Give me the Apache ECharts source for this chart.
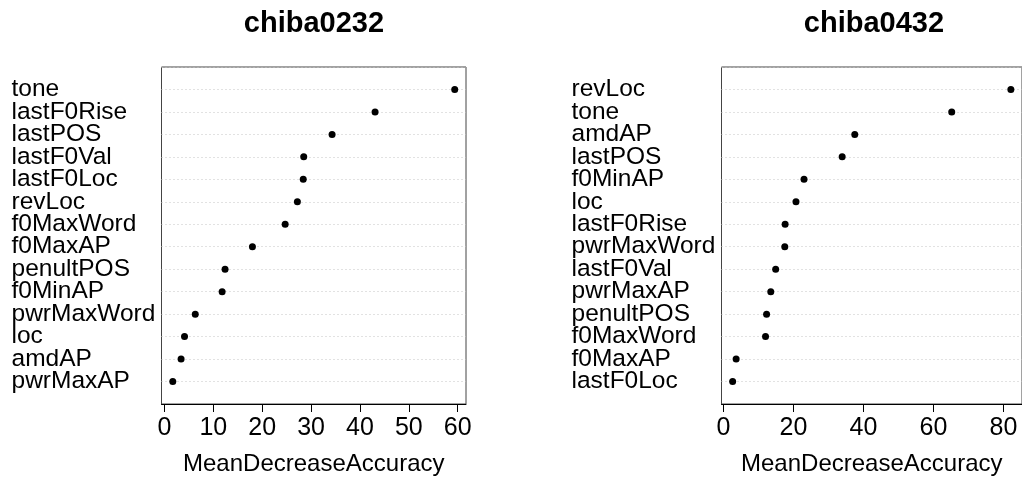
<!DOCTYPE html>
<html>
<head>
<meta charset="utf-8">
<script src="https://cdn.jsdelivr.net/npm/echarts@6/dist/echarts.min.js"></script>
<style>
  html, body { margin: 0; padding: 0; background: #fff; }
  #main { width: 1022px; height: 481px; }
</style>
</head>
<body>
<div id="main"></div>
<script>
// 左图：chiba0232
var leftTitle = 'chiba0232';
var leftLabels = ['tone', 'lastF0Rise', 'lastPOS', 'lastF0Val', 'lastF0Loc', 'revLoc', 'f0MaxWord',
  'f0MaxAP', 'penultPOS', 'f0MinAP', 'pwrMaxWord', 'loc', 'amdAP', 'pwrMaxAP'];
var leftValues = [59.4, 43.1, 34.3, 28.5, 28.4, 27.2, 24.7, 18.0, 12.4, 11.8, 6.3, 4.1, 3.4, 1.7];
var leftTicks = [0, 10, 20, 30, 40, 50, 60];

// 右图：chiba0432
var rightTitle = 'chiba0432';
var rightLabels = ['revLoc', 'tone', 'amdAP', 'lastPOS', 'f0MinAP', 'loc', 'lastF0Rise',
  'pwrMaxWord', 'lastF0Val', 'pwrMaxAP', 'penultPOS', 'f0MaxWord', 'f0MaxAP', 'lastF0Loc'];
var rightValues = [82.1, 65.2, 37.5, 33.9, 23.0, 20.7, 17.6, 17.5, 14.9, 13.5, 12.3, 12.0, 3.6, 2.6];
var rightTicks = [0, 20, 40, 60, 80];

var axisName = 'MeanDecreaseAccuracy';
var font = 'Liberation Sans, Arial, Helvetica, sans-serif';

var chart = echarts.init(document.getElementById('main'));

// R dotchart 的横轴范围：数据范围两端各扩 4%
function range(vals) {
  var lo = Math.min.apply(null, vals), hi = Math.max.apply(null, vals);
  var pad = (hi - lo) * 0.04;
  return [lo - pad, hi + pad];
}

function panel(i, labels, values, ticks) {
  var r = range(values);
  var x = {
    gridIndex: i,
    type: 'value',
    min: r[0],
    max: r[1],
    name: axisName,
    nameLocation: 'middle',
    nameGap: 48,
    nameTextStyle: { color: '#000', fontSize: 24, fontFamily: font },
    axisLine: { show: true, lineStyle: { color: '#000', width: 1 } },
    axisTick: { show: true, length: 8, lineStyle: { color: '#000' }, customValues: ticks },
    axisLabel: { color: '#000', fontSize: 25, fontFamily: font, margin: 12, customValues: ticks },
    splitLine: { show: false }
  };
  var y = {
    gridIndex: i,
    type: 'category',
    inverse: true,
    boundaryGap: false,
    data: [''].concat(labels, [' ']),
    axisLine: { show: false },
    axisTick: { show: false, interval: 0 },
    axisLabel: { interval: 0, align: 'left', margin: 150, color: '#000', fontSize: 24.5, fontFamily: font },
    splitLine: { show: true, interval: 0, lineStyle: { color: '#c4c4c4', type: [1, 3], width: 1 } }
  };
  var s = {
    type: 'scatter',
    xAxisIndex: i,
    yAxisIndex: i,
    symbol: 'circle',
    symbolSize: 7,
    itemStyle: { color: '#000', opacity: 1 },
    silent: true,
    data: values.map(function (v, k) { return [v, k + 1]; })
  };
  return { x: x, y: y, s: s };
}

var p1 = panel(0, leftLabels, leftValues, leftTicks);
var p2 = panel(1, rightLabels, rightValues, rightTicks);

var option = {
  animation: false,
  backgroundColor: '#fff',
  title: [
    { text: leftTitle, left: 309, top: 4, textAlign: 'center',
      textStyle: { color: '#000', fontSize: 29, fontWeight: 'bold', fontFamily: font } },
    { text: rightTitle, left: 869, top: 4, textAlign: 'center',
      textStyle: { color: '#000', fontSize: 29, fontWeight: 'bold', fontFamily: font } }
  ],
  grid: [
    { left: 161.5, top: 67, width: 304.5, height: 340, show: true, borderColor: '#444', borderWidth: 1 },
    { left: 721.5, top: 67, width: 304, height: 340, show: true, borderColor: '#444', borderWidth: 1 }
  ],
  xAxis: [p1.x, p2.x],
  yAxis: [p1.y, p2.y],
  series: [p1.s, p2.s]
};

chart.setOption(option);
</script>
</body>
</html>
